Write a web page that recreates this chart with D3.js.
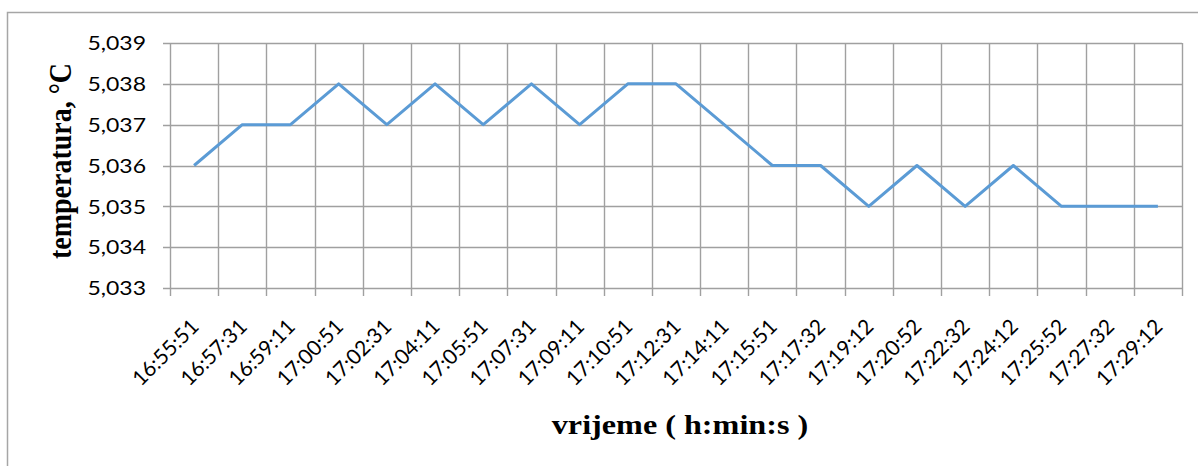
<!DOCTYPE html>
<html lang="en">
  <head>
    <meta charset="UTF-8" />
    <title>Temperatura</title>
    <script src="https://d3js.org/d3.v7.min.js"></script>
    <style>
      body { margin: 0; background: #fff; }
    </style>
  </head>
  <body>
    <svg width="1198" height="466"></svg>
    <script>
      // category labels (time of measurement)
      const times = [
        "16:55:51", "16:57:31", "16:59:11", "17:00:51", "17:02:31", "17:04:11",
        "17:05:51", "17:07:31", "17:09:11", "17:10:51", "17:12:31", "17:14:11",
        "17:15:51", "17:17:32", "17:19:12", "17:20:52", "17:22:32", "17:24:12",
        "17:25:52", "17:27:32", "17:29:12"
      ];
      // temperature values, °C
      const temps = [
        5.036, 5.037, 5.037, 5.038, 5.037, 5.038, 5.037, 5.038, 5.037, 5.038,
        5.038, 5.037, 5.036, 5.036, 5.035, 5.036, 5.035, 5.036, 5.035, 5.035, 5.035
      ];
      const yTicks = [5.033, 5.034, 5.035, 5.036, 5.037, 5.038, 5.039];

      const svg = d3.select("svg");
      const margin = { left: 170, top: 43, right: 1182, bottom: 288 };
      const stretch = 1.15; // the original picture is a bit wider than tall

      // outer chart border (runs off the bottom and right edge)
      svg.append("rect")
        .attr("x", 7.5).attr("y", 12.5)
        .attr("width", 1300).attr("height", 600)
        .attr("fill", "none")
        .attr("stroke", "#a6a6a6")
        .attr("stroke-width", 1.5);

      const x = d3.scaleBand().domain(times).range([margin.left, margin.right]);
      const y = d3.scaleLinear().domain([5.033, 5.039]).range([margin.bottom, margin.top]);

      const grid = "#a0a0a0";
      const fmt = d => d3.format(".3f")(d).replace(".", ",");

      // horizontal gridlines
      svg.append("g")
        .selectAll("line")
        .data(yTicks)
        .join("line")
        .attr("x1", margin.left - 7).attr("x2", margin.right)
        .attr("y1", d => Math.round(y(d)) + 0.5).attr("y2", d => Math.round(y(d)) + 0.5)
        .attr("stroke", grid).attr("stroke-width", 1.4);

      // vertical gridlines at category boundaries
      const bounds = times.map(t => x(t)).concat([margin.right]);
      svg.append("g")
        .selectAll("line")
        .data(bounds)
        .join("line")
        .attr("x1", d => Math.round(d) + 0.5).attr("x2", d => Math.round(d) + 0.5)
        .attr("y1", margin.top).attr("y2", margin.bottom + 8)
        .attr("stroke", grid).attr("stroke-width", 1.4);

      // y tick labels
      svg.append("g")
        .selectAll("text")
        .data(yTicks)
        .join("text")
        .attr("transform", d => `translate(146,${y(d)}) scale(${stretch},1)`)
        .attr("dy", "0.36em")
        .attr("text-anchor", "end")
        .attr("font-family", "Lato, 'Open Sans', sans-serif")
        .attr("font-size", 20)
        .attr("fill", "#000")
        .text(fmt);

      // x tick labels, rotated
      svg.append("g")
        .selectAll("text")
        .data(times)
        .join("text")
        .attr("transform", d => `translate(${x(d) + x.bandwidth() / 2 + 6},${margin.bottom + 40}) rotate(-45)`)
        .attr("text-anchor", "end")
        .attr("font-family", "Lato, 'Open Sans', sans-serif")
        .attr("font-size", 21)
        .attr("fill", "#000")
        .text(d => d);

      // data line
      const line = d3.line()
        .x((d, i) => x(times[i]) + x.bandwidth() / 2)
        .y(d => y(d));

      svg.append("path")
        .datum(temps)
        .attr("d", line)
        .attr("fill", "none")
        .attr("stroke", "#5b9bd5")
        .attr("stroke-width", 3)
        .attr("stroke-linejoin", "round");

      // axis titles
      svg.append("text")
        .attr("transform", `translate(680,434) scale(${stretch},1)`)
        .attr("text-anchor", "middle")
        .attr("font-family", "'Liberation Serif', 'Times New Roman', serif")
        .attr("font-weight", "bold")
        .attr("font-size", 28)
        .text("vrijeme ( h:min:s )");

      svg.append("text")
        .attr("transform", `translate(71,161) scale(${stretch},1) rotate(-90)`)
        .attr("text-anchor", "middle")
        .attr("font-family", "'Liberation Serif', 'Times New Roman', serif")
        .attr("font-weight", "bold")
        .attr("font-size", 28)
        .text("temperatura, °C");
    </script>
  </body>
</html>
